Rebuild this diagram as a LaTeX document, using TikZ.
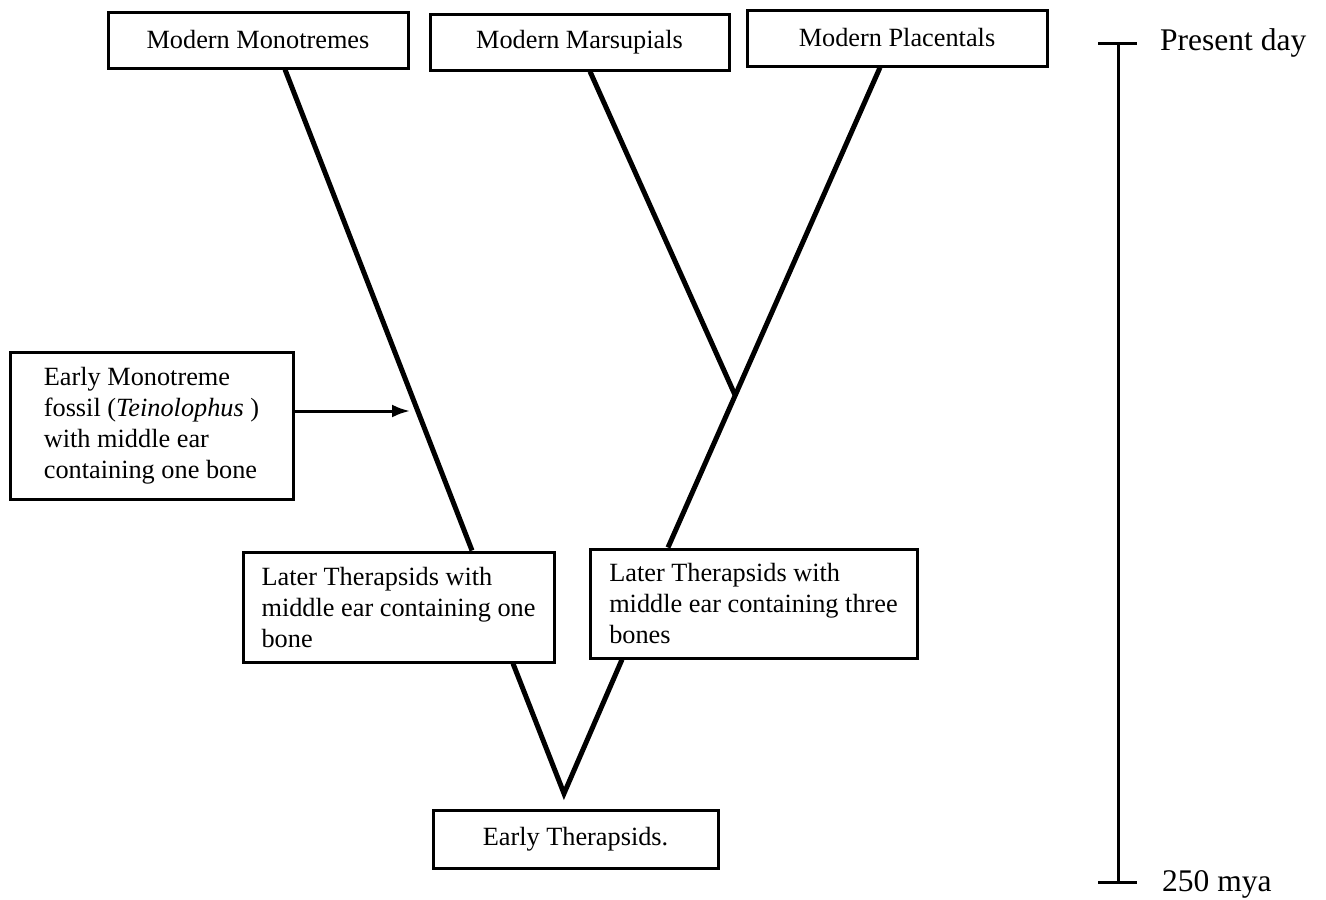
\documentclass[tikz,border=0pt]{standalone}
\usepackage{fontspec}
\setmainfont{Liberation Serif}
\usetikzlibrary{arrows.meta, calc}
\tikzset{
    taxon/.style={draw, line width=3pt, inner sep=0pt, font=\fontsize{26.3}{31}\selectfont},
    note/.style={taxon, align=left},
    branch/.style={line width=5pt},
    timeline/.style={line width=3pt},
    era/.style={anchor=west, inner sep=0pt, font=\fontsize{31.5}{36}\selectfont}
}

\begin{document}
\begin{tikzpicture}[x=1pt, y=-1pt]
        \useasboundingbox (0,0) rectangle (1326,900);

        \node[taxon, minimum width=300pt, minimum height=56pt] (mono) at (258,40) {Modern Monotremes};
        \node[taxon, minimum width=299pt, minimum height=56pt] (mars) at (579.5,42) {Modern Marsupials};
        \node[taxon, minimum width=300pt, minimum height=56pt] (plac) at (897,38) {Modern Placentals};

        \node[note, minimum width=283pt, minimum height=147pt] (fossil) at (151.5,425.5)
            {Early Monotreme\\fossil (\textit{Teinolophus} )\\with middle ear\\containing one bone};
        \node[note, minimum width=311pt, minimum height=110pt] (later1) at (398.5,607)
            {Later Therapsids with\\middle ear containing one\\bone};
        \node[note, minimum width=327pt, minimum height=109pt] (later2) at (753.5,603.5)
            {Later Therapsids with\\middle ear containing three\\bones};
        \node[taxon, minimum width=285pt, minimum height=58pt] (early) at (575.5,839) {Early Therapsids.};

        \coordinate (split) at (735,395);
        \coordinate (root) at ([xshift=-11.5pt,yshift=15pt]early.north);
        \coordinate (hit) at (410,411);

        \draw[branch] ([xshift=27pt]mono.south) -- ([xshift=73.5pt]later1.north);
        \draw[branch] ([xshift=10.5pt]mars.south) -- (split);
        \draw[branch] ([xshift=-17pt]plac.south) -- ([xshift=-85.5pt]later2.north);
        \draw[branch] ([xshift=114.5pt]later1.south) -- (root) -- ([xshift=-131.5pt]later2.south);

        \draw[line width=3pt, -{Latex[length=18pt,width=13pt]}] (fossil.east |- hit) -- (hit);

        \coordinate (now) at (1118,43);
        \coordinate (past) at (1118,882);
        \draw[timeline] (now) -- (past);
        \draw[timeline] ([xshift=-20pt]now) -- ([xshift=19pt]now);
        \draw[timeline] ([xshift=-20pt]past) -- ([xshift=19pt]past);
        \node[era] (present) at (1160,43) {Present day};
        \node[era] (mya) at (1162,884) {250 mya};
\end{tikzpicture}
\end{document}
